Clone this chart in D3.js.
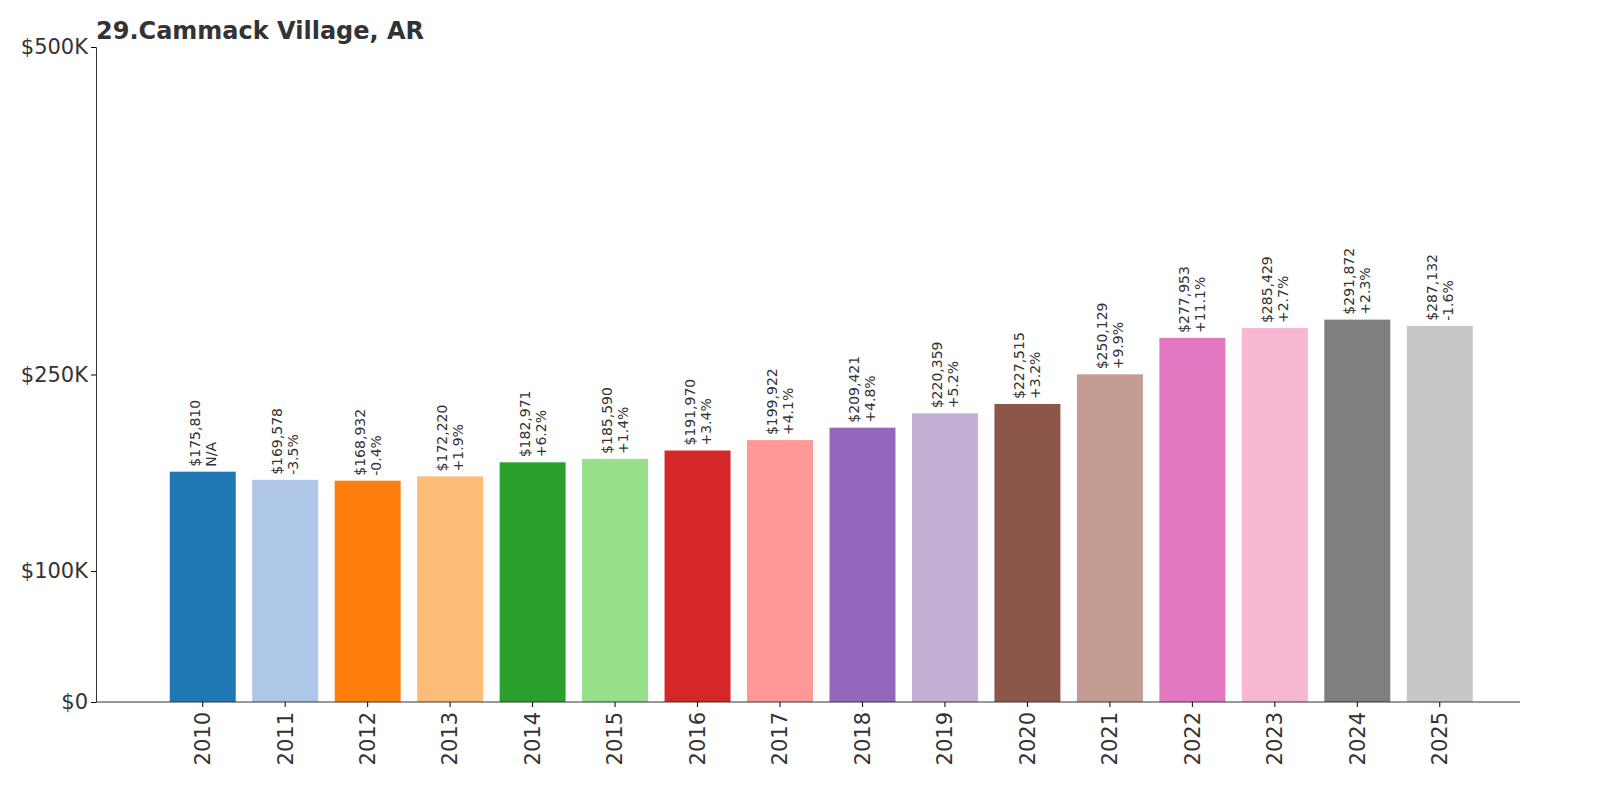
<!DOCTYPE html>
<html><head><meta charset="utf-8">
<script src="https://cdn.jsdelivr.net/npm/d3@7"></script>
<style>body{margin:0;background:#fff;font-family:"DejaVu Sans",sans-serif;}</style>
</head><body><svg id="c" width="1600" height="800"></svg>
<script>
const years = ["2010","2011","2012","2013","2014","2015","2016","2017","2018","2019","2020","2021","2022","2023","2024","2025"];
const values = [175810,169578,168932,172220,182971,185590,191970,199922,209421,220359,227515,250129,277953,285429,291872,287132];
const changes = ["N/A","-3.5%","-0.4%","+1.9%","+6.2%","+1.4%","+3.4%","+4.1%","+4.8%","+5.2%","+3.2%","+9.9%","+11.1%","+2.7%","+2.3%","-1.6%"];
const colors = ["#1f77b4","#aec7e8","#ff7f0e","#ffbb78","#2ca02c","#98df8a","#d62728","#ff9896","#9467bd","#c5b0d5","#8c564b","#c49c94","#e377c2","#f7b6d2","#7f7f7f","#c7c7c7"];
const yTicks = [0,100000,250000,500000];
const yTickLabels = ["$0","$100K","$250K","$500K"];
const title = "29.Cammack Village, AR";

const svg = d3.select("#c");
const x = d3.scaleBand().domain(years).range([153.25,1489.25]).padding(0.2);
const y = d3.scaleLinear().domain([0,500000]).range([702,47]);

svg.append("text").attr("x",96).attr("y",39).attr("font-size",24).attr("font-weight","bold").attr("fill","#333").text(title);

svg.selectAll("rect.bar").data(values).join("rect").attr("class","bar")
  .attr("x",(d,i)=>x(years[i])).attr("width",x.bandwidth())
  .attr("y",d=>y(d)).attr("height",d=>y(0)-y(d)).attr("fill",(d,i)=>colors[i]);

const fmt = d3.format(",");
const lab = svg.selectAll("g.lab").data(values).join("g").attr("class","lab")
  .attr("transform",(d,i)=>`translate(${x(years[i])+x.bandwidth()/2},${y(d)-5}) rotate(-90)`);
lab.append("text").attr("x",0).attr("y",-3).attr("font-size",14).attr("fill","#333").text(d=>"$"+fmt(d));
lab.append("text").attr("x",0).attr("y",13).attr("font-size",14).attr("fill","#333").text((d,i)=>changes[i]);

const ax = svg.append("g").attr("transform","translate(96,0)")
  .call(d3.axisLeft(y).tickValues(yTicks).tickFormat((d,i)=>yTickLabels[i]).tickSize(5));
ax.selectAll("text").attr("font-size",21).attr("fill","#333").attr("font-family","DejaVu Sans");
ax.select(".domain").attr("stroke","#333");
const bx = svg.append("g").attr("transform","translate(0,702)").call(d3.axisBottom(x).tickSize(5));
bx.select(".domain").attr("d","M96,0H1520").attr("stroke","#333");
bx.selectAll("text").attr("font-size",21).attr("fill","#333").attr("font-family","DejaVu Sans")
  .attr("transform","rotate(-90)").attr("text-anchor","end").attr("x",-10).attr("y",0).attr("dy","0.35em");
</script></body></html>
